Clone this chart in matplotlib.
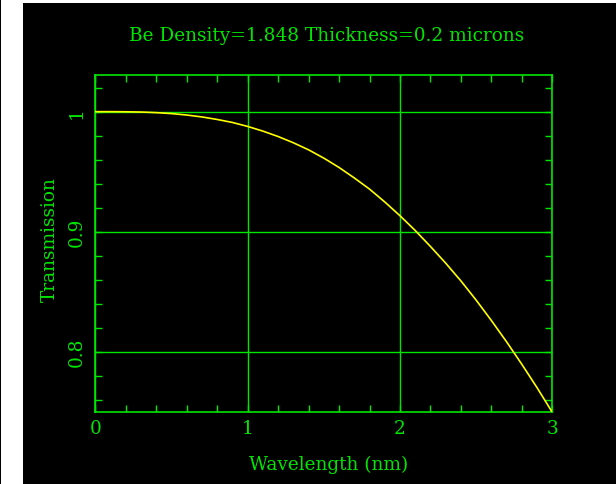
import matplotlib
matplotlib.use('Agg')
import matplotlib.pyplot as plt
from matplotlib.patches import Rectangle
from matplotlib.ticker import MultipleLocator, FormatStrFormatter

# Be filter transmission vs wavelength
wavelength = [0.0, 0.1, 0.2, 0.3, 0.4, 0.5, 0.6, 0.7, 0.8, 0.9,
              1.0, 1.1, 1.2, 1.3, 1.4, 1.5, 1.6, 1.7, 1.8, 1.9,
              2.0, 2.1, 2.2, 2.3, 2.4, 2.5, 2.6, 2.7, 2.8, 2.9, 3.0]
transmission = [1.0000, 1.0000, 0.9999, 0.9997, 0.9992, 0.9984, 0.9972,
                0.9956, 0.9935, 0.9910, 0.9877, 0.9838, 0.9793, 0.9741,
                0.9682, 0.9613, 0.9535, 0.9448, 0.9355, 0.9248, 0.9133,
                0.9010, 0.8877, 0.8738, 0.8590, 0.8430, 0.8260, 0.8082,
                0.7895, 0.7700, 0.7495]

title = 'Be Density=1.848 Thickness=0.2 microns'
xlabel = 'Wavelength (nm)'
ylabel = 'Transmission'
xticks = [0, 1, 2, 3]
yticks = [0.8, 0.9, 1.0]
yticklabels = ['0.8', '0.9', '1']

GREEN = '#00e600'
YELLOW = '#ffff00'
FONT = 'DejaVu Serif'
FS = 13.3

W, H = 616, 485
fig = plt.figure(figsize=(W / 100, H / 100), dpi=100)
fig.patch.set_facecolor('black')

# white margins on the left and top edges
fig.patches.append(Rectangle((1 / W, 0), 21.6 / W, 1, transform=fig.transFigure,
                             facecolor='white', edgecolor='none', zorder=0))
fig.patches.append(Rectangle((1 / W, 1 - 4 / H), 1, 4 / H, transform=fig.transFigure,
                             facecolor='white', edgecolor='none', zorder=0))

ax = fig.add_axes([95.3 / W, 1 - 413.3 / H, 457 / W, 337 / H])
ax.set_facecolor('black')

ax.plot(wavelength, transmission, color=YELLOW, lw=1.2, zorder=3)

ax.set_xlim(0, 3)
ax.set_ylim(0.7495, 1.0303)
ax.set_xticks(xticks)
ax.set_yticks(yticks)
ax.set_yticklabels(yticklabels)
ax.xaxis.set_major_formatter(FormatStrFormatter('%d'))
ax.xaxis.set_minor_locator(MultipleLocator(0.2))
ax.yaxis.set_minor_locator(MultipleLocator(0.02))

ax.grid(True, which='major', color=GREEN, lw=1.0)
for sp in ax.spines.values():
    sp.set_color(GREEN)
    sp.set_linewidth(1.2)

ax.tick_params(which='both', direction='in', top=True, right=True,
               color=GREEN, width=1.0, length=5, labelcolor=GREEN)
ax.tick_params(axis='x', pad=5)
ax.tick_params(axis='y', pad=7, labelrotation=90)
for lab in ax.get_xticklabels() + ax.get_yticklabels():
    lab.set_fontfamily(FONT)
    lab.set_fontsize(FS)
for lab in ax.get_yticklabels():
    lab.set_va('center')

fig.text(327 / W, 1 - 36 / H, title, color=GREEN, fontfamily=FONT,
         fontsize=FS, ha='center', va='center')
fig.text(329 / W, 1 - 465 / H, xlabel, color=GREEN, fontfamily=FONT,
         fontsize=FS, ha='center', va='center')
fig.text(50 / W, 1 - 240 / H, ylabel, color=GREEN, fontfamily=FONT,
         fontsize=FS, ha='center', va='center', rotation=90)

fig.savefig('out.png', dpi=100, facecolor=fig.get_facecolor())
